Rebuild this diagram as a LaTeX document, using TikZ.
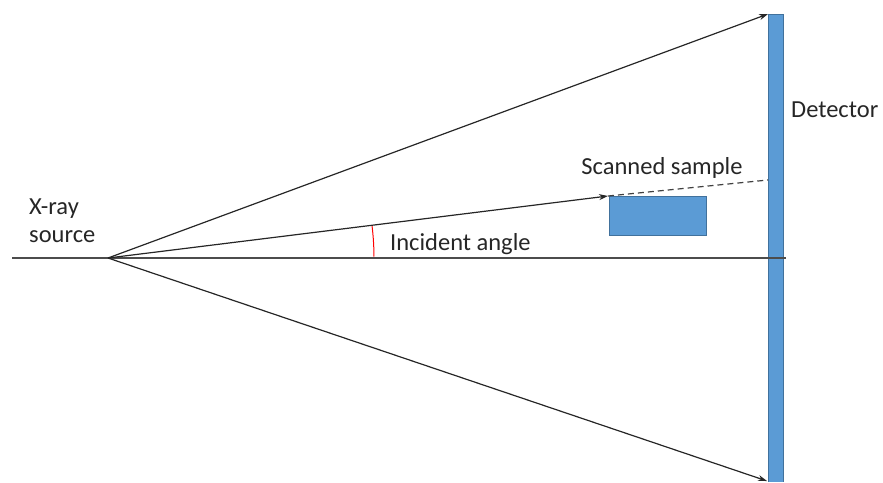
\documentclass[tikz,border=0pt]{standalone}
\usepackage{fontspec}
\setmainfont{Carlito}
\usetikzlibrary{arrows.meta}
\definecolor{barblue}{HTML}{5B9BD5}
\definecolor{baredge}{HTML}{41719C}
\begin{document}
\begin{tikzpicture}[x=1pt,y=-1pt,
  ray/.style={line width=1.2pt,draw=black!85,-{Stealth[length=9pt,width=6pt]}},
  blueblock/.style={fill=barblue,draw=baredge,line width=0.6pt},
  lbl/.style={font=\fontsize{24.5}{28}\selectfont,text=black!85,inner sep=0pt}]
\useasboundingbox (0,0) rectangle (883,482);
% source and ray end points
\coordinate (src) at (108,258);
\coordinate (axisL) at (12,258);
\coordinate (axisR) at (786,258);
\coordinate (topEnd) at (768,14);
\coordinate (botEnd) at (767,481);
\coordinate (hit) at (608,196);
\coordinate (proj) at (768,180);
% detector bar and sample
\fill[barblue] (768,14) rectangle (783,482);
\draw[baredge,line width=0.6pt] (768,482) -- (768,14) -- (783,14) -- (783,482);
\node[blueblock,minimum width=97pt,minimum height=39pt,anchor=north west,inner sep=0pt] (sample) at (609,196) {};
% optical axis
\draw[line width=1.3pt,black!70] (axisL) -- (axisR);
% rays
\draw[ray] (src) -- (topEnd);
\draw[ray] (src) -- (botEnd);
\draw[ray] (src) -- (hit);
\draw[line width=1.2pt,black!75,dash pattern=on 6pt off 4pt] (hit) -- (proj);
% incident angle arc
\draw[red,line width=1pt] (src) ++(-6.9:266) arc[start angle=-6.9,end angle=-0.3,radius=266];
% labels
\node[lbl,anchor=west] (det) at (791,110) {Detector};
\node[lbl] (scan) at (662,168) {Scanned sample};
\node[lbl,align=left,anchor=west] (xray) at (29,221) {X-ray\\source};
\node[lbl,anchor=west] (inc) at (390,244) {Incident angle};
\end{tikzpicture}
\end{document}
